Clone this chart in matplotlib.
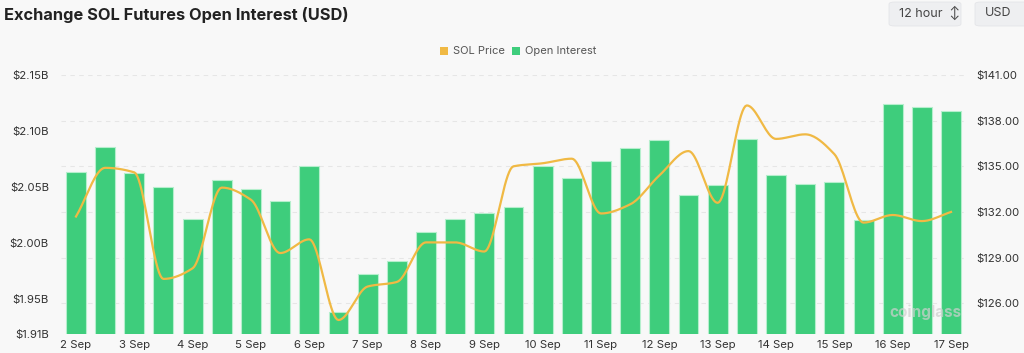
import numpy as np
import matplotlib.pyplot as plt
from matplotlib.patches import FancyBboxPatch, Rectangle

# 12-hour samples, 2 Sep .. 17 Sep
days = ['2 Sep', '3 Sep', '4 Sep', '5 Sep', '6 Sep', '7 Sep', '8 Sep', '9 Sep',
        '10 Sep', '11 Sep', '12 Sep', '13 Sep', '14 Sep', '15 Sep', '16 Sep', '17 Sep']

# open interest, billions USD
open_interest = [2.063, 2.086, 2.062, 2.050, 2.021, 2.056, 2.048, 2.037, 2.069, 1.938,
                 1.972, 1.984, 2.010, 2.021, 2.027, 2.032, 2.069, 2.058, 2.073, 2.085,
                 2.092, 2.043, 2.052, 2.093, 2.061, 2.053, 2.054, 2.020, 2.124, 2.121,
                 2.118]

# SOL price, USD
sol_price = [131.7, 134.9, 134.6, 127.6, 128.3, 133.6, 132.8, 129.3, 130.2, 124.9,
             127.1, 127.4, 130.0, 130.0, 129.4, 135.0, 135.2, 135.5, 131.9, 132.5,
             134.4, 136.0, 132.6, 139.0, 136.8, 137.1, 135.8, 131.3, 131.8, 131.4,
             132.0]

left_ticks = [1.9185, 1.95, 2.00, 2.05, 2.10, 2.15]
left_labels = ['$1.91B', '$1.95B', '$2.00B', '$2.05B', '$2.10B', '$2.15B']
right_ticks = [126, 129, 132, 135, 138, 141]

BG = '#f8f8f8'
GREEN = '#3ecd7c'
ORANGE = '#f0b944'
TXT = '#333333'


def monotone_curve(x, y, n=20):
    # Fritsch-Carlson monotone cubic, for drawing the smooth price line
    x = np.asarray(x, float)
    y = np.asarray(y, float)
    h = np.diff(x)
    d = np.diff(y) / h
    m = np.zeros_like(y)
    m[0], m[-1] = d[0], d[-1]
    for i in range(1, len(y) - 1):
        if d[i - 1] * d[i] <= 0:
            m[i] = 0
        else:
            w1 = 2 * h[i] + h[i - 1]
            w2 = h[i] + 2 * h[i - 1]
            m[i] = (w1 + w2) / (w1 / d[i - 1] + w2 / d[i])
    xs, ys = [], []
    for i in range(len(x) - 1):
        t = np.linspace(0, 1, n, endpoint=False)
        h00 = 2 * t**3 - 3 * t**2 + 1
        h10 = t**3 - 2 * t**2 + t
        h01 = -2 * t**3 + 3 * t**2
        h11 = t**3 - t**2
        xs.append(x[i] + t * h[i])
        ys.append(h00 * y[i] + h10 * h[i] * m[i] + h01 * y[i + 1] + h11 * h[i] * m[i + 1])
    xs.append([x[-1]])
    ys.append([y[-1]])
    return np.concatenate(xs), np.concatenate(ys)


plt.rcParams['font.family'] = ['Inter', 'DejaVu Sans']

fig = plt.figure(figsize=(10.24, 3.53), dpi=100, facecolor=BG)
W, H = 1024, 353
ax = fig.add_axes([61.4 / W, 1 - 334 / H, (965.6 - 61.4) / W, (334 - 75) / H])
ax.set_facecolor(BG)

idx = np.arange(len(open_interest))
ax.bar(idx, open_interest, width=0.685, color=GREEN, edgecolor='#b5efcd',
       linewidth=0.8, zorder=2)
ax.set_xlim(-0.5, len(open_interest) - 0.5)
ax.set_ylim(1.9185, 2.15)
ax.set_yticks(left_ticks)
ax.set_yticklabels(left_labels)
ax.set_xticks(idx[::2])
ax.set_xticklabels(days)

ax2 = ax.twinx()
ax2.set_ylim(123.98, 141)
ax2.set_yticks(right_ticks)
ax2.set_yticklabels([f'${v:.2f}' for v in right_ticks])
for v in right_ticks:
    ax.axhline(1.9185 + (v - 123.98) / (141 - 123.98) * (2.15 - 1.9185),
               color='#e6e6e6', lw=0.8, ls=(0, (4, 4)), zorder=0)

cx, cy = monotone_curve(idx, sol_price)
ax2.plot(cx, cy, color=ORANGE, lw=1.6, zorder=3)

for a in (ax, ax2):
    for s in a.spines.values():
        s.set_visible(False)
    a.tick_params(length=0, labelsize=8.2, colors=TXT)
ax.tick_params(axis='y', pad=9)
ax.tick_params(axis='x', pad=4)
ax2.tick_params(axis='y', pad=8)

# title
fig.text(4 / W, 1 - 20 / H, 'Exchange SOL Futures Open Interest (USD)',
         fontsize=11.8, fontweight='bold', color='#222222', ha='left', va='baseline')

# top right selectors
for x0, w0, label in [(889, 72, '12 hour  \u2195'), (975, 60, 'USD')]:
    fig.patches.append(FancyBboxPatch((x0 / W, 1 - 26 / H), w0 / W, 24 / H,
                                      boxstyle='round,pad=0,rounding_size=0.006',
                                      transform=fig.transFigure, fc='#eeeff1',
                                      ec='#e4e5e8', lw=0.6))
    fig.text((x0 + 10) / W, 1 - 13 / H, label, fontsize=9, color='#444444',
             ha='left', va='center')

# legend
for x0, color, label in [(440, ORANGE, 'SOL Price'), (512, GREEN, 'Open Interest')]:
    fig.patches.append(Rectangle((x0 / W, 1 - 55 / H), 8 / W, 8 / H,
                                 transform=fig.transFigure, fc=color, ec='none'))
    fig.text((x0 + 13) / W, 1 - 51 / H, label, fontsize=8, color='#555555',
             ha='left', va='center')

# watermark
fig.text(962 / W, 1 - 312 / H, 'coinglass', fontsize=11, fontweight='bold',
         color='#cfcfcf', alpha=0.7, ha='right', va='center', zorder=10)

fig.savefig('out.png', dpi=100, facecolor=BG)
